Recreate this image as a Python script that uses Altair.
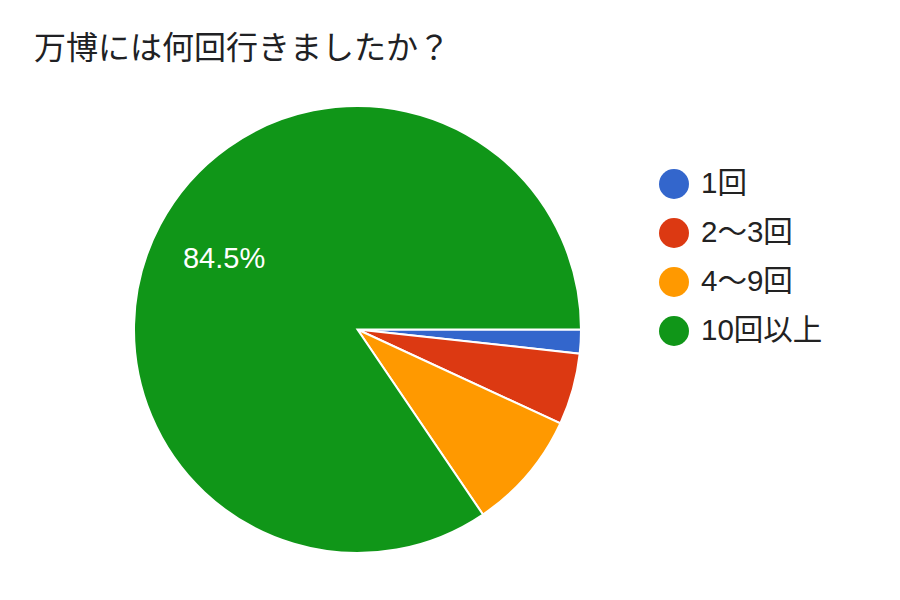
import math
import altair as alt
import pandas as pd

title_text = "万博には何回行きましたか？"
categories = ["1回", "2〜3回", "4〜9回", "10回以上"]
counts = [1, 3, 5, 49]
colors = ["#3366cc", "#dc3912", "#ff9900", "#109618"]

total = sum(counts)
df = pd.DataFrame({
    "cat": categories,
    "n": counts,
    "ord": list(range(len(categories))),
})
df["pct"] = df["n"] / total * 100
df["lab"] = [f"{p:.1f}%" if p >= 10 else "" for p in df["pct"]]

FONT = "Liberation Sans, Arial, Noto Sans CJK JP"
CX, CY, R = 349.5, 321.5, 223.5

theta_scale = alt.Scale(range=[math.pi / 2, math.pi / 2 + 2 * math.pi])

base = alt.Chart(df).encode(
    theta=alt.Theta("n:Q", stack=True, scale=theta_scale),
    order=alt.Order("ord:Q"),
    x=alt.value(CX),
    y=alt.value(CY),
)

pie = base.mark_arc(outerRadius=R, stroke="white", strokeWidth=2).encode(
    color=alt.Color(
        "cat:N",
        sort=categories,
        scale=alt.Scale(domain=categories, range=colors),
        legend=alt.Legend(
            title=None,
            orient="none",
            legendX=651,
            legendY=161,
            symbolType="circle",
            symbolSize=900,
            symbolStrokeWidth=0,
            labelFont=FONT,
            labelFontSize=29.5,
            labelColor="#222222",
            labelOffset=12,
            rowPadding=19,
        ),
    )
)

labels = base.mark_text(
    radius=151, font=FONT, fontSize=29, color="white", align="center", baseline="middle"
).encode(text="lab:N")

title_df = pd.DataFrame({"t": [title_text]})
title = alt.Chart(title_df).mark_text(
    font="Noto Sans CJK JP", fontSize=32, color="#202124", align="left", baseline="middle"
).encode(text="t:N", x=alt.value(26), y=alt.value(41))

chart = alt.layer(pie, labels, title).properties(
    width=884, height=584, autosize=alt.AutoSizeParams(type="none"), padding=0
).configure_view(stroke=None)

chart.save("out.html", embed_options={"renderer": "svg", "actions": False})
